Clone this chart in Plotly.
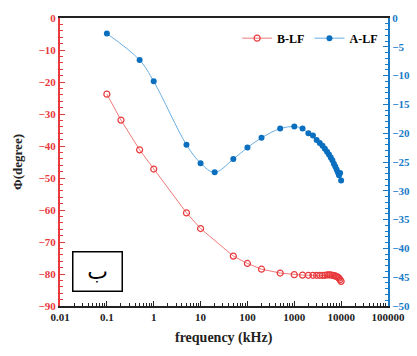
import plotly.graph_objects as go

# B-LF (left axis)
freq_b = [0.1, 0.2, 0.5, 1, 5, 10, 50, 100, 200, 500, 1000, 1500, 2000, 2500, 3000,
          3500, 4000, 4500, 5000, 5500, 6000, 6500, 7000, 7500, 8000, 8500, 9000, 9500, 10000]
phase_b = [-23.8, -31.9, -41.2, -47.2, -60.9, -65.8, -74.4, -76.7, -78.5, -79.7, -80.2,
           -80.35, -80.4, -80.4, -80.4, -80.4, -80.4, -80.4, -80.3, -80.3, -80.3, -80.4,
           -80.5, -80.6, -80.8, -81.0, -81.3, -81.8, -82.3]

# A-LF (right axis)
freq_a = [0.1, 0.5, 1, 5, 10, 20, 50, 100, 200, 500, 1000, 1500, 2000, 2500, 3000,
          3500, 4000, 4500, 5000, 5500, 6000, 6500, 7000, 7500, 8000, 8500, 9000, 9500, 10000]
phase_a = [-2.7, -7.3, -11.0, -22.0, -25.2, -26.8, -24.5, -22.5, -20.8, -19.2, -18.85,
           -19.2, -20.0, -20.4, -21.2, -21.7, -22.2, -22.7, -23.2, -23.7, -24.2, -24.7,
           -25.3, -25.8, -26.3, -26.8, -27.3, -26.9, -28.2]

x_tickvals = [0.01, 0.1, 1, 10, 100, 1000, 10000, 100000]
x_ticktext = ["0.01", "0.1", "1", "10", "100", "1000", "10000", "100000"]

RED = "#E8393C"
RED_LINE = "#F07A7A"
BLUE = "#0B6FC0"
BLUE_LINE = "#6AAEE0"
SERIF = "Liberation Serif"

fig = go.Figure()
fig.add_trace(go.Scatter(
    x=freq_b, y=phase_b, name="B-LF", mode="lines+markers",
    line=dict(color=RED_LINE, width=1),
    marker=dict(symbol="circle-open", size=6, color=RED, line=dict(width=1.2, color=RED)),
    yaxis="y"))
fig.add_trace(go.Scatter(
    x=freq_a, y=phase_a, name="A-LF", mode="lines+markers",
    line=dict(color=BLUE_LINE, width=1, shape="spline", smoothing=1.0),
    marker=dict(symbol="circle", size=6, color=BLUE),
    yaxis="y2"))

fig.update_layout(
    width=417, height=356,
    margin=dict(l=60, r=21, t=15, b=50),
    paper_bgcolor="white", plot_bgcolor="white",
    showlegend=True,
    legend=dict(orientation="h", x=0.54, y=0.93, xanchor="left", yanchor="middle",
                font=dict(family=SERIF, size=12, color="black", weight="bold"),
                bgcolor="rgba(0,0,0,0)", tracegroupgap=0, itemwidth=30),
    xaxis=dict(type="log", range=[-2, 5], tickvals=x_tickvals, ticktext=x_ticktext,
               showline=True, linecolor="#222222", linewidth=2, mirror=True,
               ticks="inside", ticklen=5, tickcolor="#222222", showgrid=False, zeroline=False,
               tickfont=dict(family=SERIF, size=11, color="#222222", weight="bold"),
               minor=dict(ticks="inside", ticklen=3, tickcolor="#222222", showgrid=False,
                          tickvals=[m * 10 ** e for e in range(-2, 5) for m in range(2, 10)])),
    yaxis=dict(range=[-90, 0], dtick=10, showline=True, linecolor=RED, linewidth=2,
               ticks="inside", ticklen=5, tickcolor=RED, showgrid=False, zeroline=False,
               tickfont=dict(family=SERIF, size=11, color=RED, weight="bold"),
               minor=dict(ticks="inside", ticklen=3, tickcolor=RED, dtick=2, showgrid=False)),
    yaxis2=dict(range=[-50, 0], dtick=5, overlaying="y", side="right",
                showline=True, linecolor="#1A7CC8", linewidth=2,
                ticks="inside", ticklen=5, tickcolor="#1A7CC8", showgrid=False, zeroline=False,
                automargin=False,
                tickfont=dict(family=SERIF, size=11, color="#1A7CC8", weight="bold"),
                minor=dict(ticks="inside", ticklen=3, tickcolor="#1A7CC8", dtick=1, showgrid=False)),
    annotations=[
        dict(text="frequency (kHz)", xref="paper", yref="paper", x=0.5, y=-0.11,
             xanchor="center", yanchor="middle", showarrow=False,
             font=dict(family=SERIF, size=14, color="#222222", weight="bold")),
        dict(text="Φ(degree)", xref="paper", yref="paper", x=-0.131, y=0.50,
             xanchor="center", yanchor="middle", showarrow=False, textangle=-90,
             font=dict(family=SERIF, size=13, color="#222222", weight="bold")),
        dict(text="ب", xref="paper", yref="paper", x=0.113, y=0.12,
             xanchor="center", yanchor="middle", showarrow=False,
             width=48, height=38, borderpad=0, bordercolor="black", borderwidth=1.5,
             bgcolor="white", font=dict(family="DejaVu Sans", size=22, color="black")),
    ],
)

fig.write_html("out.html")
